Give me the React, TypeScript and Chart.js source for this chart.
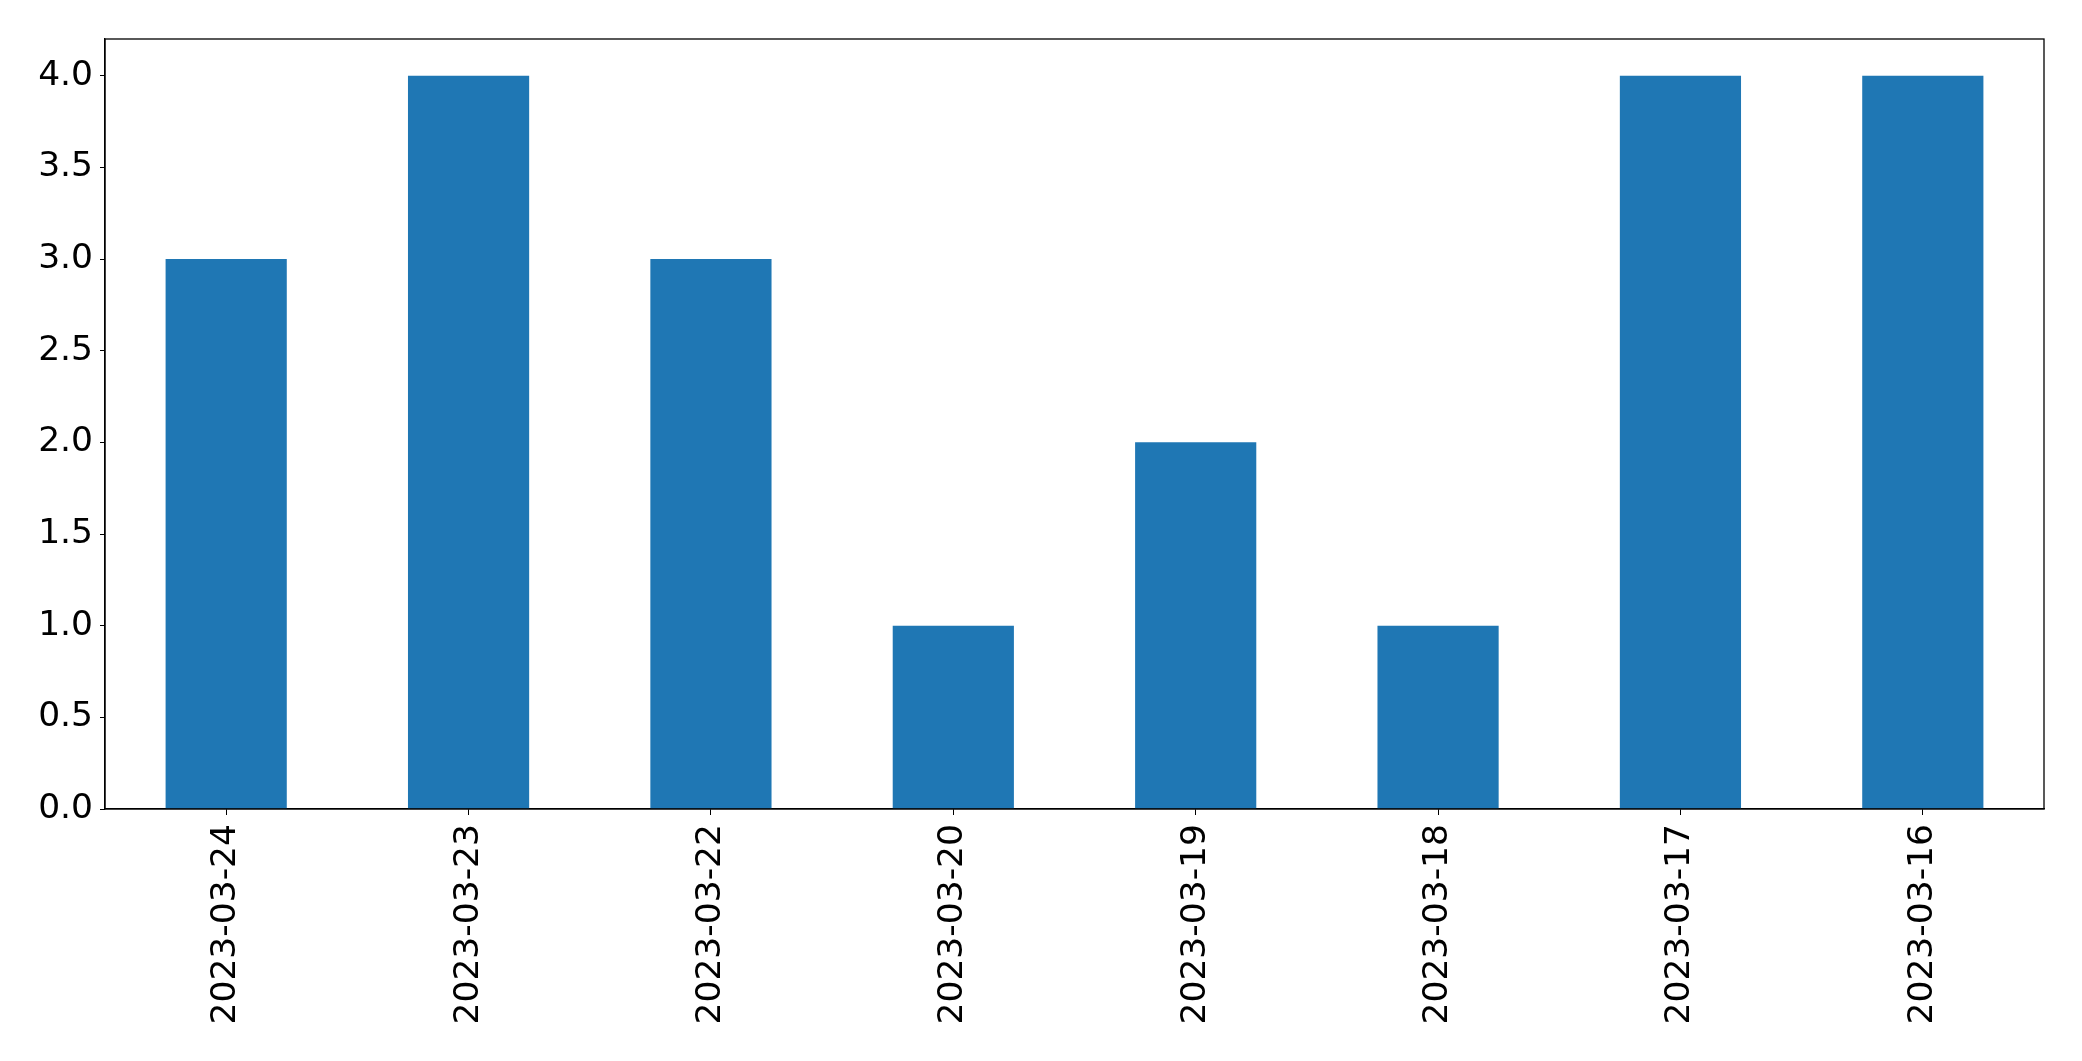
import React, { useEffect, useRef } from "react";
import { Chart, registerables } from "chart.js";

Chart.register(...registerables);

const categories = [
  "2023-03-24",
  "2023-03-23",
  "2023-03-22",
  "2023-03-20",
  "2023-03-19",
  "2023-03-18",
  "2023-03-17",
  "2023-03-16",
];
const values = [3, 4, 3, 1, 2, 1, 4, 4];
const yTicks = [0, 0.5, 1, 1.5, 2, 2.5, 3, 3.5, 4];
const yMax = 4.2;

const W = 2082;
const H = 1061;
const FONT = "'DejaVu Sans', sans-serif";

const frame = {
  id: "frame",
  afterDraw(chart: any) {
    const { ctx, chartArea } = chart;
    ctx.save();
    ctx.strokeStyle = "#000";
    ctx.lineWidth = 1.3;
    ctx.strokeRect(chartArea.left, chartArea.top, chartArea.right - chartArea.left, chartArea.bottom - chartArea.top);
    ctx.restore();
  },
};

export default function App() {
  const ref = useRef<HTMLCanvasElement | null>(null);
  useEffect(() => {
    if (!ref.current) return;
    const chart = new Chart(ref.current, {
      type: "bar",
      data: {
        labels: categories,
        datasets: [
          {
            data: values,
            backgroundColor: "#1f77b4",
            borderWidth: 0,
            categoryPercentage: 0.5,
            barPercentage: 1,
          },
        ],
      },
      options: {
        animation: false,
        responsive: false,
        maintainAspectRatio: false,
        layout: { padding: { left: 0, top: 39, right: 38, bottom: 0 } },
        plugins: { legend: { display: false }, tooltip: { enabled: false } },
        scales: {
          x: {
            offset: true,
            grid: { display: true, drawOnChartArea: false, tickLength: 6, tickColor: "#000", offset: false },
            border: { display: true, color: "#000", width: 1.3 },
            ticks: {
              color: "#000",
              font: { family: FONT, size: 34.5 },
              minRotation: 90,
              maxRotation: 90,
              autoSkip: false,
              padding: 9,
            },
            afterFit: (axis: any) => {
              axis.height = H - 809;
            },
          },
          y: {
            min: 0,
            max: yMax,
            grid: { display: true, drawOnChartArea: false, tickLength: 5, tickColor: "#000" },
            border: { display: true, color: "#000", width: 1.3 },
            ticks: {
              color: "#000",
              font: { family: FONT, size: 34.5 },
              padding: 7,
              callback: (v: any) => Number(v).toFixed(1),
            },
            afterBuildTicks: (axis: any) => {
              axis.ticks = yTicks.map((v) => ({ value: v }));
            },
            afterFit: (axis: any) => {
              axis.width = 105;
            },
          },
        },
      },
      plugins: [frame],
    });
    return () => chart.destroy();
  }, []);
  return (
    <div style={{ position: "fixed", left: 0, top: 0, width: W, height: H, background: "#fff" }}>
      <canvas ref={ref} width={W} height={H} style={{ width: W, height: H, display: "block" }} />
    </div>
  );
}
